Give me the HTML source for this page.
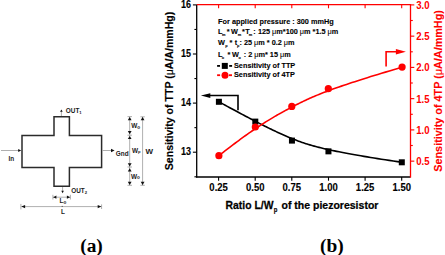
<!DOCTYPE html>
<html><head><meta charset="utf-8">
<style>
html,body{margin:0;padding:0;background:#fff;}
body{width:445px;height:255px;overflow:hidden;}
svg{display:block;}
text{font-family:"Liberation Sans",sans-serif;font-weight:bold;}
.serif{font-family:"Liberation Serif",serif;font-weight:bold;}
</style></head>
<body>
<svg width="445" height="255" viewBox="0 0 445 255">
<!-- ===== (a) diagram ===== -->
<g fill="none" stroke="#2b2b2b" stroke-width="1.5" stroke-linejoin="miter">
<path d="M22 135.5 H54 V116.7 H69.4 V135.5 H101.6 V167.5 H69.4 V186.2 H54 V167.5 H22 Z"/>
</g>
<g stroke="#9a9a9a" stroke-width="0.8" fill="none">
<line x1="1" y1="150.5" x2="19" y2="150.5"/>
<line x1="102.5" y1="150.5" x2="112" y2="150.5"/>
<line x1="61.4" y1="111" x2="61.4" y2="116"/>
<line x1="62.6" y1="187" x2="62.6" y2="191"/>
<line x1="53" y1="197.2" x2="70.4" y2="197.2"/>
<line x1="52.9" y1="194.8" x2="52.9" y2="199.5"/>
<line x1="70.4" y1="194.8" x2="70.4" y2="199.5"/>
<line x1="21.5" y1="206.6" x2="101.4" y2="206.6"/>
<line x1="20.9" y1="203.9" x2="20.9" y2="209.4"/>
<line x1="101.6" y1="204.4" x2="101.6" y2="209"/>
<line x1="129.7" y1="116.6" x2="129.7" y2="185.3"/>
<line x1="127.5" y1="116.6" x2="132" y2="116.6"/>
<line x1="127.5" y1="135.2" x2="132" y2="135.2"/>
<line x1="127.5" y1="167" x2="132" y2="167"/>
<line x1="127.5" y1="185.3" x2="132" y2="185.3"/>
<line x1="142.6" y1="116.8" x2="142.6" y2="185.3"/>
<line x1="140.4" y1="116.8" x2="144.8" y2="116.8"/>
<line x1="140.4" y1="185.3" x2="144.8" y2="185.3"/>
</g>
<g fill="#111">
<path d="M21.2 150.4 L18.2 148.9 L18.2 151.9 Z"/>
<path d="M114.6 150.5 L111 148.8 L111 152.2 Z"/>
<path d="M61.4 109.4 L60.1 111.8 L62.7 111.8 Z"/>
<path d="M62.6 193.2 L61.3 190.8 L63.9 190.8 Z"/>
<path d="M53.2 197.2 L56.4 195.6 L56.4 198.8 Z"/>
<path d="M70.1 197.2 L66.9 195.6 L66.9 198.8 Z"/>
<path d="M21.3 206.6 L25.1 204.9 L25.1 208.3 Z"/>
<path d="M101.3 206.6 L97.7 204.9 L97.7 208.3 Z"/>
<rect x="61.7" y="205.9" width="1" height="1" fill="#444"/>
<!-- Wo top -->
<path d="M129.7 116.9 L127.8 120.2 L131.6 120.2 Z"/>
<path d="M129.7 134.2 L127.8 130.9 L131.6 130.9 Z"/>
<!-- Wp -->
<path d="M129.7 135.9 L127.8 139 L131.6 139 Z"/>
<path d="M129.7 166.4 L127.8 163.3 L131.6 163.3 Z"/>
<!-- Wo bottom -->
<path d="M129.7 168.3 L127.8 171.6 L131.6 171.6 Z"/>
<path d="M129.7 185 L127.8 181.7 L131.6 181.7 Z"/>
<!-- W -->
<path d="M142.6 117 L140.7 120.3 L144.5 120.3 Z"/>
<path d="M142.6 185 L140.7 181.7 L144.5 181.7 Z"/>
</g>
<g font-size="6.4" fill="#1a1a1a">
<text x="65.8" y="113.3">OUT<tspan font-size="4.2" dy="1">1</tspan></text>
<text x="71.2" y="193.2">OUT<tspan font-size="4.2" dy="1">2</tspan></text>
<text x="8.5" y="160.9">In</text>
<text x="115.8" y="155.7">Gnd</text>
<text x="131.2" y="128.4">W<tspan font-size="4.6" dy="0.4">o</tspan></text>
<text x="131.9" y="152.8">W<tspan font-size="4.1" dy="0.3">p</tspan></text>
<text x="130.9" y="178.8">W<tspan font-size="4.6" dy="0.6">o</tspan></text>
<text x="145.4" y="154.3" font-size="8">W</text>
<text x="59.6" y="203">L<tspan font-size="4.6" dy="0.6">o</tspan></text>
<text x="61" y="213.9">L</text>
</g>
<text class="serif" x="80.2" y="252" font-size="19.4" fill="#000">(a)</text>
<text class="serif" x="320.1" y="252" font-size="19.4" fill="#000">(b)</text>

<!-- ===== (b) chart ===== -->
<!-- curves -->
<g fill="none" stroke-width="1.6">
<path stroke="#000" d="M218.90 101.80 L221.06 102.98 L223.18 104.13 L225.26 105.25 L227.30 106.36 L229.30 107.44 L231.25 108.50 L233.17 109.53 L235.06 110.55 L236.90 111.54 L238.72 112.51 L240.49 113.46 L242.23 114.39 L243.94 115.30 L245.62 116.19 L247.27 117.06 L248.88 117.91 L250.47 118.75 L252.03 119.56 L253.56 120.36 L255.06 121.14 L256.54 121.91 L257.99 122.66 L259.41 123.39 L260.82 124.10 L262.20 124.80 L263.56 125.49 L264.90 126.16 L266.21 126.82 L267.51 127.46 L268.80 128.10 L270.06 128.71 L271.31 129.32 L272.54 129.91 L273.75 130.49 L274.96 131.06 L276.15 131.62 L277.32 132.17 L278.49 132.71 L279.65 133.24 L280.79 133.76 L281.93 134.27 L283.06 134.78 L284.18 135.27 L285.30 135.76 L286.41 136.24 L287.51 136.71 L288.62 137.17 L289.72 137.63 L290.82 138.09 L291.91 138.54 L293.01 138.98 L294.11 139.42 L295.22 139.86 L296.33 140.29 L297.45 140.71 L298.59 141.14 L299.74 141.56 L300.91 141.98 L302.11 142.40 L303.32 142.81 L304.56 143.23 L305.84 143.64 L307.14 144.05 L308.48 144.47 L309.85 144.88 L311.26 145.29 L312.72 145.71 L314.22 146.12 L315.77 146.54 L317.37 146.96 L319.02 147.38 L320.73 147.81 L322.49 148.24 L324.32 148.67 L326.21 149.10 L328.16 149.54 L330.19 149.98 L332.28 150.43 L334.45 150.89 L336.70 151.35 L339.02 151.81 L341.43 152.29 L343.92 152.76 L346.50 153.25 L349.17 153.74 L351.94 154.25 L354.79 154.76 L357.75 155.27 L360.80 155.80 L363.96 156.34 L367.23 156.88 L370.60 157.44 L374.08 158.01 L377.68 158.59 L381.39 159.17 L385.23 159.78 L389.18 160.39 L393.26 161.01 L397.46 161.65 L401.80 162.30"/>
<path stroke="#f00" d="M218.90 155.65 L221.06 153.95 L223.18 152.30 L225.26 150.69 L227.30 149.12 L229.29 147.59 L231.25 146.10 L233.17 144.65 L235.05 143.24 L236.90 141.86 L238.71 140.52 L240.48 139.22 L242.22 137.95 L243.93 136.71 L245.61 135.51 L247.25 134.34 L248.86 133.21 L250.45 132.10 L252.00 131.02 L253.53 129.97 L255.03 128.95 L256.50 127.96 L257.95 126.99 L259.38 126.05 L260.78 125.13 L262.16 124.23 L263.51 123.36 L264.85 122.51 L266.16 121.69 L267.46 120.88 L268.74 120.09 L270.00 119.32 L271.24 118.57 L272.47 117.84 L273.69 117.12 L274.88 116.41 L276.07 115.73 L277.25 115.05 L278.41 114.39 L279.56 113.74 L280.70 113.10 L281.84 112.47 L282.97 111.85 L284.09 111.24 L285.20 110.63 L286.31 110.04 L287.41 109.45 L288.51 108.86 L289.61 108.28 L290.70 107.70 L291.80 107.12 L292.90 106.55 L293.99 105.98 L295.10 105.41 L296.21 104.83 L297.33 104.26 L298.47 103.69 L299.62 103.11 L300.79 102.53 L301.98 101.95 L303.19 101.36 L304.44 100.77 L305.71 100.17 L307.01 99.57 L308.35 98.96 L309.72 98.34 L311.14 97.72 L312.60 97.08 L314.10 96.44 L315.65 95.79 L317.26 95.13 L318.91 94.45 L320.62 93.77 L322.39 93.07 L324.22 92.36 L326.12 91.63 L328.08 90.90 L330.11 90.14 L332.22 89.37 L334.39 88.59 L336.65 87.78 L338.98 86.96 L341.40 86.13 L343.91 85.27 L346.50 84.39 L349.18 83.50 L351.95 82.58 L354.83 81.64 L357.80 80.68 L360.87 79.70 L364.04 78.69 L367.32 77.66 L370.71 76.60 L374.22 75.52 L377.84 74.42 L381.57 73.28 L385.43 72.12 L389.40 70.94 L393.51 69.72 L397.74 68.47 L402.10 67.20"/>
</g>
<!-- markers -->
<g fill="#000">
<rect x="215.90" y="98.80" width="6" height="6"/>
<rect x="252.30" y="118.60" width="6" height="6"/>
<rect x="288.95" y="137.60" width="6" height="6"/>
<rect x="325.45" y="148.35" width="6" height="6"/>
<rect x="398.80" y="159.30" width="6" height="6"/>
</g>
<g fill="#f00">
<circle cx="218.9" cy="155.65" r="3.6"/>
<circle cx="255.3" cy="127.0" r="3.6"/>
<circle cx="291.8" cy="106.4" r="3.6"/>
<circle cx="328.3" cy="88.7" r="3.6"/>
<circle cx="402.1" cy="67.1" r="3.6"/>
</g>
<!-- arrows -->
<g fill="none" stroke-width="1.6">
<path stroke="#000" d="M238 110.3 V95.5 H207"/>
<path stroke="#f00" d="M386.1 66.5 V51.8 H398"/>
</g>
<path fill="#000" d="M200.9 95.5 L210.3 93.2 L210.3 97.9 Z"/>
<path fill="#f00" d="M405.9 51.8 L395.9 48.9 L395.9 54.6 Z"/>

<!-- axes -->
<g stroke-width="1.3" fill="none">
<line x1="196.7" y1="4.8" x2="196.7" y2="177.6" stroke="#000"/>
<line x1="196.1" y1="177" x2="410.5" y2="177" stroke="#000"/>
<line x1="196.7" y1="4.7" x2="411.1" y2="4.7" stroke="#f00"/>
<line x1="410.5" y1="4.2" x2="410.5" y2="177.6" stroke="#f00"/>
</g>
<!-- left ticks -->
<g stroke="#000" stroke-width="1.1">
<line x1="192.9" y1="4.9" x2="196.7" y2="4.9"/>
<line x1="192.9" y1="54.0" x2="196.7" y2="54.0"/>
<line x1="192.9" y1="103.1" x2="196.7" y2="103.1"/>
<line x1="192.9" y1="152.2" x2="196.7" y2="152.2"/>
<line x1="194.4" y1="29.45" x2="196.7" y2="29.45"/>
<line x1="194.4" y1="78.55" x2="196.7" y2="78.55"/>
<line x1="194.4" y1="127.65" x2="196.7" y2="127.65"/>
<line x1="194.4" y1="176.8" x2="196.7" y2="176.8"/>
</g>
<!-- bottom ticks -->
<g stroke="#000" stroke-width="1.1">
<line x1="218.6" y1="177" x2="218.6" y2="180.7"/>
<line x1="255.2" y1="177" x2="255.2" y2="180.7"/>
<line x1="291.8" y1="177" x2="291.8" y2="180.7"/>
<line x1="328.5" y1="177" x2="328.5" y2="180.7"/>
<line x1="365.1" y1="177" x2="365.1" y2="180.7"/>
<line x1="401.7" y1="177" x2="401.7" y2="180.7"/>
</g>
<!-- top ticks -->
<g stroke="#f00" stroke-width="1.1">
<line x1="218.6" y1="4.8" x2="218.6" y2="8.3"/>
<line x1="255.2" y1="4.8" x2="255.2" y2="8.3"/>
<line x1="291.8" y1="4.8" x2="291.8" y2="8.3"/>
<line x1="328.5" y1="4.8" x2="328.5" y2="8.3"/>
<line x1="365.1" y1="4.8" x2="365.1" y2="8.3"/>
<line x1="401.7" y1="4.8" x2="401.7" y2="8.3"/>
</g>
<!-- right ticks -->
<g stroke="#f00" stroke-width="1.1">
<line x1="410.5" y1="4.9" x2="414.3" y2="4.9"/>
<line x1="410.5" y1="36.15" x2="414.3" y2="36.15"/>
<line x1="410.5" y1="67.4" x2="414.3" y2="67.4"/>
<line x1="410.5" y1="98.65" x2="414.3" y2="98.65"/>
<line x1="410.5" y1="129.9" x2="414.3" y2="129.9"/>
<line x1="410.5" y1="161.15" x2="414.3" y2="161.15"/>
<line x1="410.5" y1="20.5" x2="412.8" y2="20.5"/>
<line x1="410.5" y1="51.8" x2="412.8" y2="51.8"/>
<line x1="410.5" y1="83" x2="412.8" y2="83"/>
<line x1="410.5" y1="114.3" x2="412.8" y2="114.3"/>
<line x1="410.5" y1="145.5" x2="412.8" y2="145.5"/>
</g>
<!-- tick labels -->
<g font-size="10" fill="#000" stroke="#000" stroke-width="0.1" text-anchor="end">
<text transform="translate(191,7.9) scale(0.9,1)">16</text>
<text transform="translate(191,56.80) scale(0.9,1)">15</text>
<text transform="translate(191,105.90) scale(0.9,1)">14</text>
<text transform="translate(191,155.00) scale(0.9,1)">13</text>
</g><g font-size="10" fill="#f00">
<text transform="translate(416.2,8.75) scale(0.96,1)">3.0</text>
<text transform="translate(416.2,40.00) scale(0.96,1)">2.5</text>
<text transform="translate(416.2,71.25) scale(0.96,1)">2.0</text>
<text transform="translate(416.2,102.50) scale(0.96,1)">1.5</text>
<text transform="translate(416.2,133.75) scale(0.96,1)">1.0</text>
<text transform="translate(416.2,165.00) scale(0.96,1)">0.5</text>
</g><g font-size="10" fill="#000" stroke="#000" stroke-width="0.12" text-anchor="middle">
<text transform="translate(218.60,190.8) scale(0.95,1)">0.25</text>
<text transform="translate(255.20,190.8) scale(0.95,1)">0.50</text>
<text transform="translate(291.80,190.8) scale(0.95,1)">0.75</text>
<text transform="translate(328.50,190.8) scale(0.95,1)">1.00</text>
<text transform="translate(365.10,190.8) scale(0.95,1)">1.25</text>
<text transform="translate(401.70,190.8) scale(0.95,1)">1.50</text>
</g>
<!-- axis titles -->
<text transform="translate(225.6,208.7) scale(0.92,1)" font-size="11.3" fill="#000" stroke="#000" stroke-width="0.25">Ratio L/W</text>
<text transform="translate(273.7,212.4) scale(0.92,1)" font-size="6.5" fill="#000" stroke="#000" stroke-width="0.15">p</text>
<text transform="translate(281.5,208.7) scale(0.93,1)" font-size="11.3" fill="#000" stroke="#000" stroke-width="0.25">of the piezoresistor</text>
<text transform="translate(173.4,170.2) scale(1,0.94) rotate(-90)" font-size="11.25" fill="#000" stroke="#000" stroke-width="0.15">Sensitivity of TTP (<tspan font-weight="normal">μ</tspan>A/A/mmHg)</text>
<text transform="translate(442.1,171.7) scale(1,0.94) rotate(-90)" font-size="11.5" fill="#f00" stroke="#f00" stroke-width="0.1">Sensitivity of 4TP (<tspan font-weight="normal">μ</tspan>A/A/mmHg)</text>

<!-- legend -->
<g font-size="7.3" fill="#000" stroke="#000" stroke-width="0.1">
<text x="218.1" y="24">For applied pressure : 300 mmHg</text>
<text x="217.9" y="33.6">L</text><text x="222.05" y="35.8" font-size="3.9">m</text>
<text x="226.8" y="33.6">*</text><text x="230.9" y="33.6">W</text><text x="237.8" y="35.8" font-size="3.9">m</text>
<text x="242.1" y="33.6">*</text><text x="245.25" y="33.6">T</text><text x="248.85" y="35.8" font-size="3.9">m</text>
<text x="253.2" y="33.6">:</text><text x="257.9" y="33.6">125 <tspan font-weight="normal">μ</tspan>m*100 <tspan font-weight="normal">μ</tspan>m *1.5 <tspan font-weight="normal">μ</tspan>m</text>
<text x="217.9" y="45">W</text><text x="225.15" y="47.2" font-size="3.9">p</text>
<text x="229.6" y="45">*</text><text x="234.85" y="45">t</text><text x="236.95" y="47.2" font-size="3.9">p</text>
<text x="239.55" y="45">:</text><text x="243.9" y="45">25 <tspan font-weight="normal">μ</tspan>m * 0.2 <tspan font-weight="normal">μ</tspan>m</text>
<text x="217.9" y="56.6">L</text><text x="221.7" y="58.8" font-size="3.9">o</text>
<text x="227.5" y="56.6">*</text><text x="231.9" y="56.6">W</text><text x="238.6" y="58.8" font-size="3.9">o</text>
<text x="243.65" y="56.6">:</text><text x="248.2" y="56.6">2 <tspan font-weight="normal">μ</tspan>m* 15 <tspan font-weight="normal">μ</tspan>m</text>
<text x="234" y="67.8">Sensitivity of TTP</text>
<text x="234" y="77.4">Sensitivity of 4TP</text>
</g>
<g fill="#000">
<rect x="217.1" y="65" width="2.9" height="1.8"/>
<rect x="229.2" y="65" width="2.9" height="1.8"/>
<rect x="221.8" y="62.9" width="6" height="6"/>
</g>
<g fill="#f00">
<rect x="217.1" y="74.3" width="3" height="1.8"/>
<rect x="229" y="74.3" width="3" height="1.8"/>
<circle cx="225" cy="75.2" r="3.5"/>
</g>
</svg>
</body></html>
